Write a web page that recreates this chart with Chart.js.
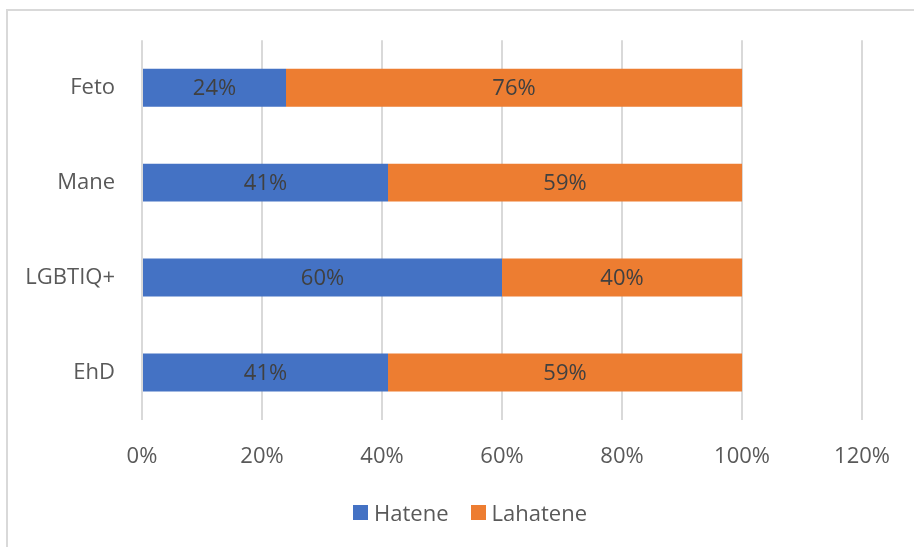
<!DOCTYPE html>
<html>
<head>
<meta charset="utf-8">
<script src="https://cdn.jsdelivr.net/npm/chart.js@4/dist/chart.umd.min.js"></script>
<style>
  html, body { margin: 0; padding: 0; background: #fff; }
  .wrap { position: relative; width: 914px; height: 547px; overflow: hidden; }
  .frame { position: absolute; left: 6px; top: 9px; right: 0; bottom: 0;
           border-left: 2px solid #d9d9d9; border-top: 2px solid #d9d9d9; }
  canvas { position: absolute; left: 0; top: 0; }
  .legend { position: absolute; left: 0; width: 940px; top: 497px; height: 30px;
            display: flex; justify-content: center; align-items: center;
            font: 22px 'Open Sans', 'Noto Sans', sans-serif; color: #595959; }
  .legend__item { display: flex; align-items: center; margin: 0 11px; }
  .legend__box { width: 15px; height: 15px; margin-right: 6px; }
</style>
</head>
<body>
<div class="wrap">
  <div class="frame"></div>
  <canvas id="myChart" width="914" height="547"></canvas>
  <div class="legend" id="legend"></div>
</div>
<script>
const categories = ['Feto', 'Mane', 'LGBTIQ+', 'EhD'];
const hatene = [24, 41, 60, 41];
const lahatene = [76, 59, 40, 59];
const seriesNames = ['Hatene', 'Lahatene'];
const xTicks = [0, 20, 40, 60, 80, 100, 120];

const FONT = "'Open Sans', 'Noto Sans', sans-serif";
const SIZE = 22;

// draws the % value in the middle of each bar piece
const barLabels = {
  id: 'barLabels',
  afterDatasetsDraw(chart){
    const ctx = chart.ctx;
    ctx.save();
    ctx.font = SIZE + 'px ' + FONT;
    ctx.fillStyle = '#404040';
    ctx.textAlign = 'center';
    ctx.textBaseline = 'middle';
    chart.data.datasets.forEach((ds, i) => {
      chart.getDatasetMeta(i).data.forEach((bar, j) => {
        const {x, y, base} = bar.getProps(['x', 'y', 'base'], true);
        ctx.fillText(ds.data[j] + '%', (x + base) / 2, y + 1);
      });
    });
    ctx.restore();
  }
};

const ctx = document.getElementById('myChart').getContext('2d');
const myChart = new Chart(ctx, {
  type: 'bar',
  data: {
    labels: categories,
    datasets: [
      { label: seriesNames[0], data: hatene, backgroundColor: '#4472C4' },
      { label: seriesNames[1], data: lahatene, backgroundColor: '#ED7D31' }
    ]
  },
  options: {
    indexAxis: 'y',
    responsive: false,
    animation: false,
    categoryPercentage: 1,
    barPercentage: 0.4,
    layout: { padding: { top: 39, right: 51, bottom: 55, left: 0 } },
    scales: {
      x: {
        stacked: true,
        min: 0,
        max: 120,
        afterBuildTicks: scale => { scale.ticks = xTicks.map(v => ({ value: v })); },
        afterFit: scale => { scale.height = 72; },
        grid: { color: '#d9d9d9', lineWidth: 2, drawTicks: false },
        border: { display: false },
        ticks: {
          padding: 24,
          color: '#595959',
          font: { family: FONT, size: SIZE },
          callback: v => v + '%'
        }
      },
      y: {
        stacked: true,
        afterFit: scale => { scale.width = 142; },
        grid: { display: false, drawTicks: false },
        border: { display: false },
        ticks: {
          padding: 27,
          color: '#595959',
          font: { family: FONT, size: SIZE }
        }
      }
    },
    plugins: {
      tooltip: { enabled: false },
      legend: { display: false }
    }
  },
  plugins: [barLabels]
});

// legend built from the chart's own datasets
const legend = document.getElementById('legend');
myChart.data.datasets.forEach(ds => {
  legend.insertAdjacentHTML('beforeend', `
    <div class="legend__item">
      <span class="legend__box" style="background:${ds.backgroundColor}"></span>
      <span>${ds.label}</span>
    </div>`);
});
</script>
</body>
</html>
